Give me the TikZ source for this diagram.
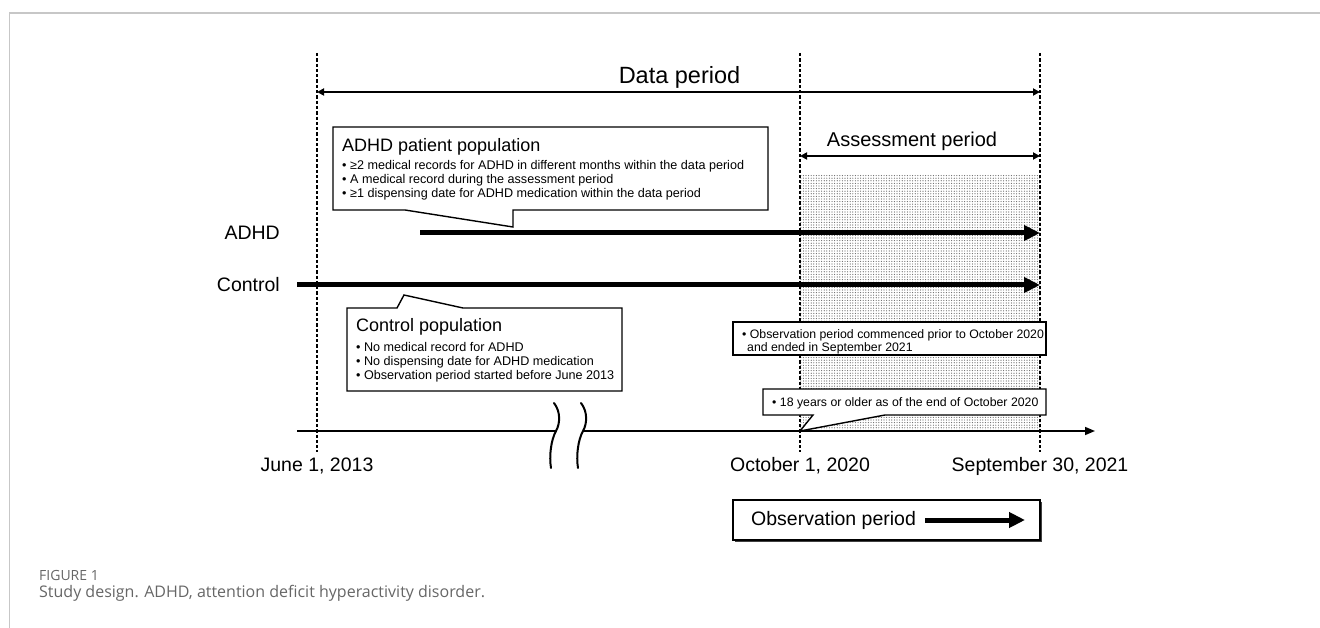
\documentclass[tikz,border=0pt]{standalone}
\usepackage{fontspec}
\setmainfont{Liberation Sans}
\newfontfamily\capfont{Open Sans}
\usetikzlibrary{arrows.meta,patterns.meta,shadows}
\tikzset{
  vline/.style={line width=1.5pt, dash pattern=on 3.3pt off 2pt},
  thinarr/.style={line width=1.8pt, {Triangle[length=7pt,width=7pt]}-{Triangle[length=7pt,width=7pt]}},
  thickarr/.style={line width=5pt, -{Triangle[length=16pt,width=15pt]}},
  cbox/.style={draw, fill=white, line width=1.4pt, line join=miter},
  txt/.style={inner sep=0pt, anchor=base west},
  bul/.style={txt, font=\fontsize{12.6}{14}\selectfont},
  bulb/.style={txt, font=\fontsize{12.3}{14}\selectfont},
  ttl/.style={txt, font=\fontsize{18}{20}\selectfont},
  lbl/.style={inner sep=0pt, font=\fontsize{19.5}{22}\selectfont},
  breakmark/.style={line width=2pt, line cap=round}
}
\begin{document}
\begin{tikzpicture}[x=1pt,y=-1pt]
\useasboundingbox (0,0) rectangle (1320,628);
% frame
\draw[black!22, line width=1.5pt] (9.5,628) -- (9.5,13) -- (1320,13);
% shaded assessment region
\path[pattern={Dots[distance=2.6pt,radius=0.6pt]}, pattern color=black!60] (800,175) rectangle (1040,431);
% dashed vertical lines
\coordinate (j1) at (317,53); \coordinate (j2) at (317,452);
\coordinate (o1) at (800,53); \coordinate (o2) at (800,452);
\coordinate (s1) at (1040,53); \coordinate (s2) at (1040,452);
\draw[vline] (j1) -- (j2);
\draw[vline] (o1) -- (o2);
\draw[vline] (s1) -- (s2);
% data period
\coordinate (dpl) at (317,92); \coordinate (dpr) at (1040,92);
\draw[thinarr] (dpl) -- (dpr);
\node[inner sep=0pt, anchor=base, font=\fontsize{23.5}{26}\selectfont] (dp) at (679.5,84) {Data period};
% assessment period
\coordinate (apl) at (800,156); \coordinate (apr) at (1040,156);
\draw[thinarr] (apl) -- (apr);
\node[inner sep=0pt, anchor=base, font=\fontsize{20}{22}\selectfont] (ap) at (912,147) {Assessment period};
% population arrows
\node[lbl, anchor=east] (adhdl) at (280,233) {ADHD};
\node[lbl, anchor=east] (ctrll) at (280,285) {Control};
\coordinate (a1) at (420,233); \coordinate (a2) at (1040,233);
\coordinate (c1) at (297,285); \coordinate (c2) at (1040,285);
\draw[thickarr] (a1) -- (a2);
\draw[thickarr] (c1) -- (c2);
% ADHD callout
\draw[cbox] (333,127) -- (768,127) -- (768,210) -- (513,210) -- (513,227) -- (405,210) -- (333,210) -- cycle;
\node[ttl] (at) at (342,151.5) {ADHD patient population};
\node[bul] (ab1) at (342,169.5) {• ≥2 medical records for ADHD in different months within the data period};
\node[bul] (ab2) at (342,183.5) {• A medical record during the assessment period};
\node[bul] (ab3) at (342,198) {• ≥1 dispensing date for ADHD medication within the data period};
% Control callout
\draw[cbox] (347,308) -- (397,308) -- (404,295) -- (463,308) -- (622,308) -- (622,391) -- (347,391) -- cycle;
\node[ttl] (ct) at (356,331.5) {Control population};
\node[bul] (cb1) at (356,351.5) {• No medical record for ADHD};
\node[bul] (cb2) at (356,365.5) {• No dispensing date for ADHD medication};
\node[bul] (cb3) at (356,379) {• Observation period started before June 2013};
% observation criteria boxes
\draw[cbox] (733,322) rectangle (1046,355);
\node[bulb] (ob1) at (742,338.5) {• Observation period commenced prior to October 2020};
\node[bulb] (ob2) at (747,351.5) {and ended in September 2021};
\draw[cbox] (763,389) -- (1046,389) -- (1046,415) -- (885,415) -- (800,431) -- (813,415) -- (763,415) -- cycle;
\node[bulb] (ag) at (772,406.5) {• 18 years or older as of the end of October 2020};
% timeline
\coordinate (t0) at (297,431);
\coordinate (b1) at (556,431);
\coordinate (b2) at (583,431);
\coordinate (t1) at (1095,431);
\draw[line width=1.5pt] (t0) -- (b1);
\draw[line width=1.5pt, -{Triangle[length=10pt,width=8pt]}] (b2) -- (t1);
\draw[breakmark] (554,403) .. controls (561,412) and (560,424) .. (556,431) .. controls (551,440) and (549,456) .. (551,468);
\draw[breakmark] (581,403) .. controls (588,412) and (587,424) .. (583,431) .. controls (578,440) and (576,456) .. (578,468);
% dates
\node[lbl, anchor=base] (d1) at (317,471) {June 1, 2013};
\node[lbl, anchor=base] (d2) at (800,471) {October 1, 2020};
\node[lbl, anchor=base] (d3) at (1040,471) {September 30, 2021};
% observation period legend
\node[draw, fill=white, line width=1.4pt, minimum width=307pt, minimum height=40pt, inner sep=0pt,
      drop shadow={shadow xshift=2pt, shadow yshift=-2pt, fill=black!75, opacity=1}] (obs) at (886.5,520) {};
\node[lbl, anchor=west] (obst) at (751,520) {Observation period};
\coordinate (oa1) at (925,520); \coordinate (oa2) at (1025,520);
\draw[thickarr] (oa1) -- (oa2);
% caption
\node[inner sep=0pt, anchor=west, text=black!60, font=\capfont\fontsize{14}{16}\selectfont] (fig) at (39,575) {FIGURE 1};
\node[inner sep=0pt, anchor=west, text=black!60, font=\capfont\fontsize{16}{18}\selectfont] (cap) at (39,593) {Study design. ADHD, attention deficit hyperactivity disorder.};
\end{tikzpicture}
\end{document}
